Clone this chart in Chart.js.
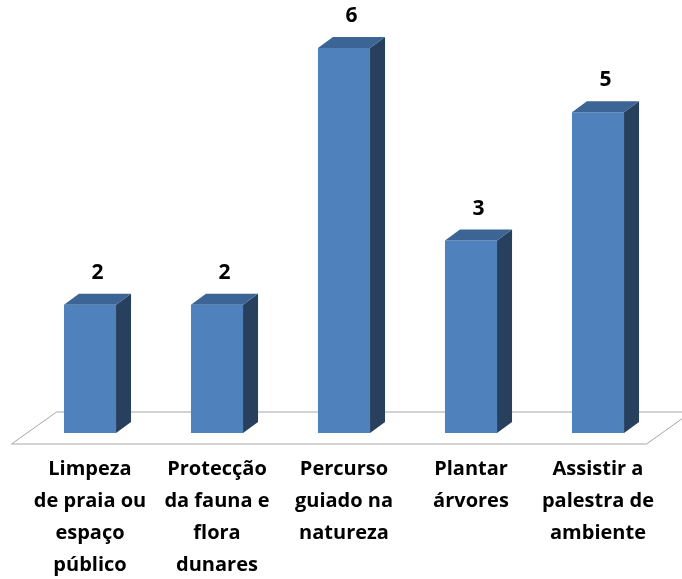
<!DOCTYPE html>
<html><head><meta charset="utf-8">
<script src="https://cdn.jsdelivr.net/npm/chart.js@4"></script>
<style>html,body{margin:0;padding:0;background:#fff;}#wrap{width:682px;height:579px;}</style>
</head><body><div id="wrap"><canvas id="c"></canvas></div>
<script>
const categories = [
  ["Limpeza","de praia ou","espaço","público"],
  ["Protecção","da fauna e","flora","dunares"],
  ["Percurso","guiado na","natureza"],
  ["Plantar","árvores"],
  ["Assistir a","palestra de","ambiente"]
];
const values = [2, 2, 6, 3, 5];
const yMin = 0, yMax = 6;

const DEPTH_X = 15, DEPTH_Y = -11;
const FRONT = '#4F81BD', TOP = '#3C6494', SIDE = '#27405E';

const bars3d = {
  id: 'bars3d',
  beforeDatasetsDraw(chart) {
    const ctx = chart.ctx, xs = chart.scales.x, ys = chart.scales.y;
    const base = ys.getPixelForValue(0);
    const fy = base + 11, by = fy - 32;
    const fl = xs.left - 15, fr = xs.right - 15;
    ctx.save();
    ctx.beginPath();
    ctx.moveTo(fl, fy); ctx.lineTo(fr, fy); ctx.lineTo(fr + 45, by); ctx.lineTo(fl + 45, by); ctx.closePath();
    ctx.fillStyle = '#ffffff'; ctx.fill();
    ctx.strokeStyle = '#a6a6a6'; ctx.lineWidth = 1; ctx.stroke();
    ctx.restore();
  },
  afterDatasetsDraw(chart) {
    const ctx = chart.ctx;
    const meta = chart.getDatasetMeta(0);
    ctx.save();
    meta.data.forEach((bar, i) => {
      const p = bar.getProps(['x','y','base','width'], true);
      const l = p.x - p.width/2, r = p.x + p.width/2, t = p.y, b = p.base;
      ctx.beginPath();
      ctx.moveTo(r, t); ctx.lineTo(r + DEPTH_X, t + DEPTH_Y); ctx.lineTo(r + DEPTH_X, b + DEPTH_Y); ctx.lineTo(r, b); ctx.closePath();
      ctx.fillStyle = SIDE; ctx.fill();
      ctx.beginPath();
      ctx.moveTo(l, t); ctx.lineTo(l + DEPTH_X, t + DEPTH_Y); ctx.lineTo(r + DEPTH_X, t + DEPTH_Y); ctx.lineTo(r, t); ctx.closePath();
      ctx.fillStyle = TOP; ctx.fill();
      ctx.fillStyle = '#000';
      ctx.font = 'bold 21px "Open Sans"';
      ctx.textAlign = 'center'; ctx.textBaseline = 'alphabetic';
      ctx.fillText(String(values[i]), p.x + DEPTH_X/2, t + DEPTH_Y - 15);
    });
    ctx.restore();
  }
};

new Chart(document.getElementById('c'), {
  type: 'bar',
  data: { labels: categories, datasets: [{ data: values, backgroundColor: FRONT, borderWidth: 0, categoryPercentage: 1, barPercentage: 0.41 }] },
  options: {
    responsive: true, maintainAspectRatio: false, animation: false,
    layout: { padding: { left: 26.5, right: 20.5, top: 48, bottom: 0 } },
    plugins: { legend: { display: false }, tooltip: { enabled: false } },
    scales: {
      x: {
        grid: { display: false, drawTicks: false }, border: { display: false },
        ticks: { color: '#000', font: { family: 'Open Sans', weight: 'bold', size: 20, lineHeight: 1.6 }, padding: 20, maxRotation: 0, autoSkip: false },
        afterFit: (s) => { s.height = 146; }
      },
      y: { display: false, min: yMin, max: yMax }
    }
  },
  plugins: [bars3d]
});
</script></body></html>
